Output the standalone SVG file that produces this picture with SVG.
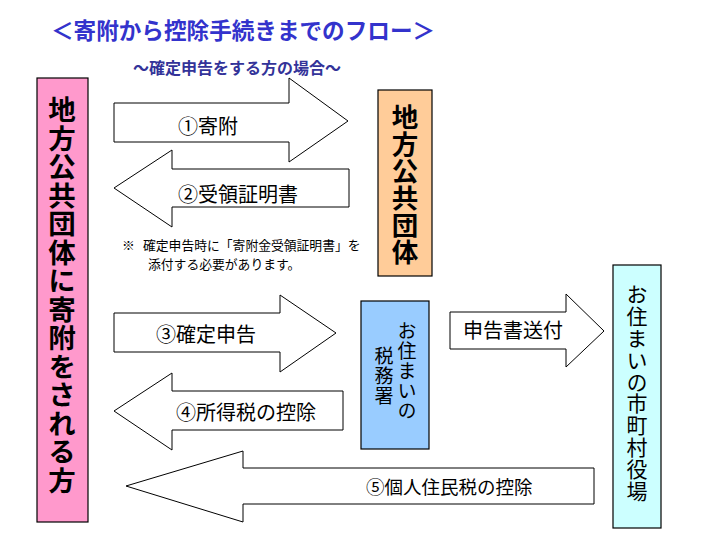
<svg xmlns="http://www.w3.org/2000/svg" width="720" height="540" viewBox="0 0 720 540">
<defs>
<style>
text { font-family: "Noto Sans CJK JP", "Noto Sans CJK SC", sans-serif; fill: #000; }
.title { font-size: 22.6px; font-weight: bold; fill: #3333cc; }
.sub { font-size: 16px; font-weight: bold; fill: #333399; }
.box { stroke: #000; stroke-width: 1.2; }
.arrow { fill: #fff; stroke: #000; stroke-width: 1; }
.lbl { font-size: 20px; }
.note { font-size: 12.8px; }
.vert { writing-mode: vertical-rl; text-orientation: upright; }
.big { font-size: 27.5px; font-weight: bold; letter-spacing: 1px; }
.big2 { font-size: 26.5px; font-weight: bold; letter-spacing: 0.5px; }
.mid { font-size: 19px; letter-spacing: 1px; }
.cy { font-size: 21px; letter-spacing: 0.8px; }
</style>
</defs>
<rect width="720" height="540" fill="#fff"/>
<text class="title" x="51" y="39">＜寄附から控除手続きまでのフロー＞</text>
<text class="sub" x="133" y="74">～確定申告をする方の場合～</text>

<g id="donor">
<rect class="box" x="37" y="78" width="51" height="444" fill="#ff99cc"/>
<text class="vert big" x="62" y="96">地方公共団体に寄附をされる方</text>
</g>

<g id="local-gov">
<rect class="box" x="378" y="90" width="54" height="186" fill="#ffcc99"/>
<text class="vert big2" x="405" y="104">地方公共団体</text>
</g>

<g id="tax-office">
<rect class="box" x="361" y="301" width="68" height="148" fill="#99ccff"/>
<text class="vert mid" x="407" y="321">お住まいの</text>
<text class="vert mid" x="384" y="346.5">税務署</text>
</g>

<g id="city-office">
<rect class="box" x="613" y="265" width="48" height="263" fill="#ccffff"/>
<text class="vert cy" x="637" y="284">お住まいの市町村役場</text>
</g>

<g id="connectors">
<g id="arrow-donation">
<polygon class="arrow" points="114,103 289,103 289,78 348,121 289,162 289,142 114,142"/>
<text class="lbl" x="178" y="134">①寄附</text>
</g>
<g id="arrow-receipt">
<polygon class="arrow" points="114,188 172,150 172,169 349,169 349,207 172,207 172,227"/>
<text class="lbl" x="178" y="202">②受領証明書</text>
</g>
<g id="arrow-return">
<polygon class="arrow" points="114,313 280,313 280,295 336,333 280,372 280,352 114,352"/>
<text class="lbl" x="156" y="342">③確定申告</text>
</g>
<g id="arrow-income-tax">
<polygon class="arrow" points="114,411 172,373 172,391 343,391 343,430 172,430 172,450"/>
<text class="lbl" x="176" y="420">④所得税の控除</text>
</g>
<g id="arrow-resident-tax">
<polygon class="arrow" points="126,486 243,451 243,468 594,468 594,504 243,504 243,522"/>
<text class="lbl" x="366" y="494" style="font-size:18.5px">⑤個人住民税の控除</text>
</g>
<g id="arrow-send">
<polygon class="arrow" points="450,312 566,312 566,294 604,331 566,367 566,349 450,349"/>
<text class="lbl" x="463" y="338">申告書送付</text>
</g>
</g>

<g id="note">
<text class="note"><tspan x="122" y="250">※</tspan><tspan x="143" y="250">確定申告時に「寄附金受領証明書」を</tspan><tspan x="148" y="269">添付する必要があります。</tspan></text>
</g>
</svg>
